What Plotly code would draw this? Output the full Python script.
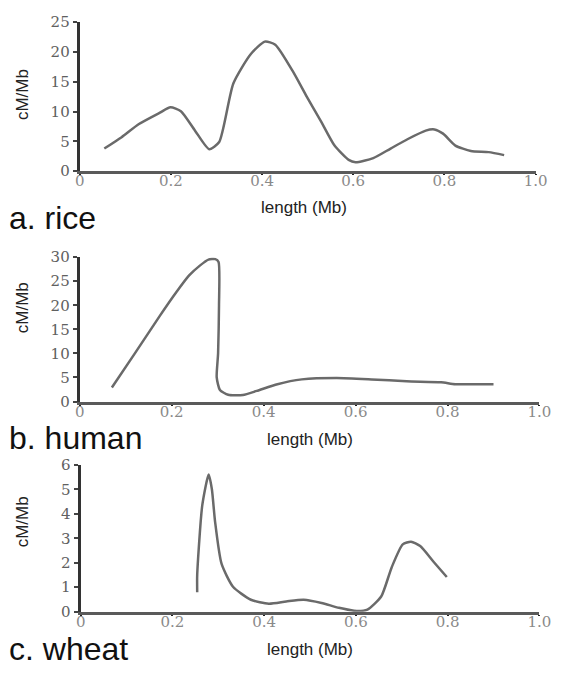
import plotly.graph_objects as go

# ---- data ----
rice_x = [0.054, 0.092, 0.13, 0.176, 0.199, 0.222, 0.253, 0.284, 0.306, 0.337, 0.375, 0.406, 0.429,
          0.467, 0.498, 0.529, 0.559, 0.59, 0.605, 0.644, 0.682, 0.72, 0.759, 0.778, 0.797, 0.824,
          0.858, 0.897, 0.931]
rice_y = [3.8, 5.7, 7.9, 9.8, 10.7, 10.05, 6.8, 3.7, 4.9, 14.7, 19.6, 21.7, 21.2,
          16.8, 12.5, 8.4, 4.3, 1.9, 1.5, 2.2, 3.8, 5.4, 6.8, 7.0, 6.3, 4.3,
          3.4, 3.2, 2.7]

human_x = [0.07, 0.12, 0.175, 0.21, 0.238, 0.262, 0.28, 0.295, 0.302, 0.303, 0.301, 0.298,
           0.305, 0.323, 0.355, 0.385, 0.43, 0.483, 0.559, 0.635, 0.711, 0.786, 0.817, 0.877, 0.9]
human_y = [2.9, 10.0, 17.9, 22.7, 26.2, 28.3, 29.5, 29.6, 29.0, 20.0, 10.0, 5.0,
           2.4, 1.4, 1.35, 2.2, 3.6, 4.6, 4.9, 4.6, 4.2, 4.0, 3.6, 3.6, 3.6]

wheat_x = [0.254, 0.254, 0.265, 0.279, 0.286, 0.293, 0.307, 0.332, 0.371, 0.41, 0.448,
           0.486, 0.525, 0.563, 0.602, 0.625, 0.655, 0.678, 0.702, 0.72, 0.74, 0.77, 0.798]
wheat_y = [0.8, 1.5, 4.34, 5.6, 5.0, 3.67, 1.96, 1.02, 0.49, 0.33, 0.42,
           0.49, 0.36, 0.16, 0.03, 0.09, 0.62, 1.82, 2.75, 2.86, 2.68, 2.02, 1.42]

x_ticks = [0, 0.2, 0.4, 0.6, 0.8, 1.0]
x_ticklabels = ["0", "0.2", "0.4", "0.6", "0.8", "1.0"]
rice_yticks = [0, 5, 10, 15, 20, 25]
human_yticks = [0, 5, 10, 15, 20, 25, 30]
wheat_yticks = [0, 1, 2, 3, 4, 5, 6]
panel_labels = ["a. rice", "b. human", "c. wheat"]
x_title = "length (Mb)"
y_title = "cM/Mb"

# ---- layout (pixel geometry) ----
W, H = 567, 673
panels = [
    dict(x=rice_x, y=rice_y, yt=rice_yticks, px=(77, 547), py=(166.7, 13.3),
         lab=(3, 215), xt=(308, 204), ytl=(18, 88)),
    dict(x=human_x, y=human_y, yt=human_yticks, px=(77, 551), py=(403.3, 255),
         lab=(3, 440.5), xt=(314, 442), ytl=(18, 307)),
    dict(x=wheat_x, y=wheat_y, yt=wheat_yticks, px=(78, 551), py=(619.3, 468.3),
         lab=(3, 658), xt=(314, 658), ytl=(18, 527)),
]

fig = go.Figure()
annotations = []
for i, p in enumerate(panels):
    n = "" if i == 0 else str(i + 1)
    fig.add_trace(go.Scatter(
        x=p["x"], y=p["y"], mode="lines",
        line=dict(color="#6a6a6a", width=2.5, shape="spline", smoothing=0.6),
        xaxis="x" + n, yaxis="y" + n, showlegend=False, hoverinfo="skip"))
    xa = dict(domain=[p["px"][0] / W, p["px"][1] / W], range=[0, 1],
              anchor="y" + n, showline=True, linecolor="#5a5a5a", linewidth=3,
              showgrid=False, zeroline=False, tickvals=x_ticks, ticktext=x_ticklabels,
              ticks="outside", ticklen=1, tickwidth=2, tickcolor="#222222",
              ticklabelstandoff=-7,
              tickfont=dict(family="DejaVu Serif", size=15, color="#8a8a8a"),
              fixedrange=True)
    ya = dict(domain=[1 - p["py"][0] / H, 1 - p["py"][1] / H],
              range=[0, p["yt"][-1]], anchor="x" + n, showline=True,
              linecolor="#333333", linewidth=3, showgrid=False, zeroline=False,
              tickvals=p["yt"], ticks="outside", ticklen=4, tickwidth=1.5,
              tickcolor="#444444",
              tickfont=dict(family="DejaVu Serif", size=15, color="#606060"),
              fixedrange=True)
    fig.update_layout(**{"xaxis" + n: xa, "yaxis" + n: ya})
    annotations.append(dict(text=panel_labels[i], x=p["lab"][0] / W, y=1 - p["lab"][1] / H,
                            xref="paper", yref="paper", xanchor="left", yanchor="middle",
                            showarrow=False, borderpad=0,
                            font=dict(family="Liberation Sans", size=32, color="#111111")))
    annotations.append(dict(text=x_title, x=p["xt"][0] / W, y=1 - p["xt"][1] / H,
                            xref="paper", yref="paper", xanchor="center", yanchor="middle",
                            showarrow=False,
                            font=dict(family="Liberation Sans", size=17, color="#222222")))
    annotations.append(dict(text=y_title, x=p["ytl"][0] / W, y=1 - p["ytl"][1] / H,
                            xref="paper", yref="paper", xanchor="center", yanchor="middle",
                            textangle=-90, showarrow=False,
                            font=dict(family="Liberation Sans", size=17, color="#222222")))

fig.update_layout(width=W, height=H, margin=dict(l=0, r=0, t=0, b=0),
                  paper_bgcolor="white", plot_bgcolor="white",
                  annotations=annotations)
fig.write_html("out.html", config={"displayModeBar": False},
               post_script="document.body.style.margin='0';")
